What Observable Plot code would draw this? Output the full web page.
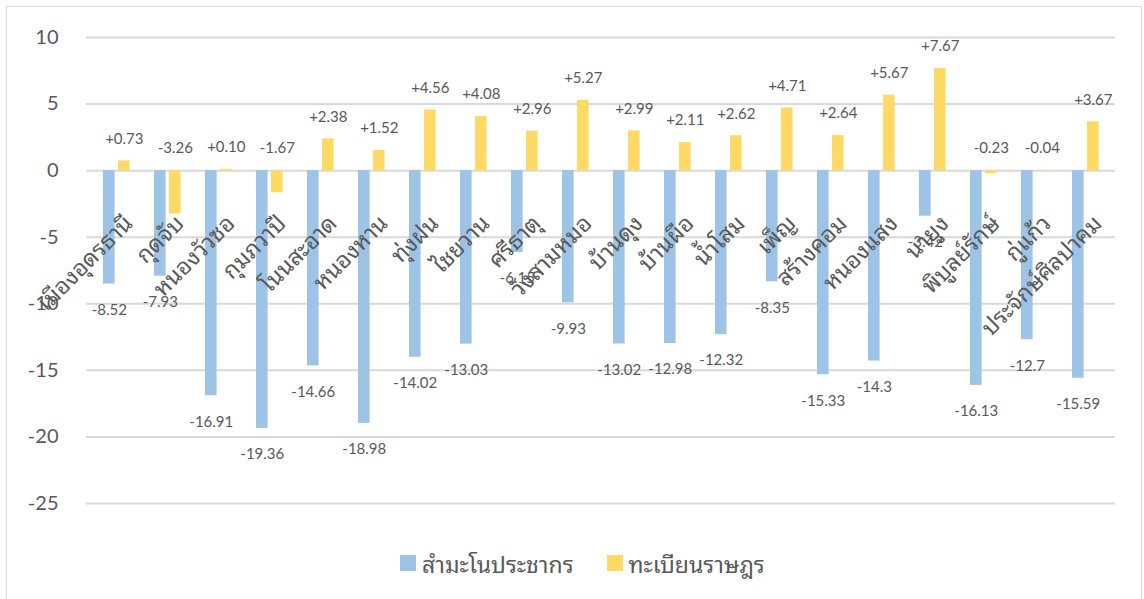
<!DOCTYPE html>
<html>
<head>
<meta charset="utf-8">
<script src="https://cdn.jsdelivr.net/npm/d3@7"></script>
<script src="https://cdn.jsdelivr.net/npm/@observablehq/plot@0.6"></script>
<style>
  body { margin: 0; background: #fff; }
  #frame { position: absolute; left: 6px; top: 6px; width: 1136px; height: 620px; border: 1px solid #d9d9d9; box-sizing: border-box; }
  #chart { position: absolute; left: 0; top: 0; }
  #legend { position: absolute; top: 544px; left: 400px; display: flex; align-items: center; font-family: "Noto Sans Thai Looped", Loma, Garuda, "Noto Sans Thai", Tahoma, "Noto Sans", sans-serif; font-size: 23px; color: #595959; }
  .sw { display: inline-block; width: 16px; height: 16px; margin-right: 6px; }
  .item { display: flex; align-items: center; margin-right: 33px; }
</style>
</head>
<body>
<div id="frame"></div>
<div id="chart"></div>
<div id="legend"></div>
<script>
const categories = ["เมืองอุดรธานี","กุดจับ","หนองวัวซอ","กุมภวาปี","โนนสะอาด","หนองหาน","ทุ่งฝน","ไชยวาน","ศรีธาตุ","วังสามหมอ","บ้านดุง","บ้านผือ","น้ำโสม","เพ็ญ","สร้างคอม","หนองแสง","นายูง","พิบูลย์รักษ์","กู่แก้ว","ประจักษ์ศิลปาคม"];
const census = [-8.52,-7.93,-16.91,-19.36,-14.66,-18.98,-14.02,-13.03,-6.15,-9.93,-13.02,-12.98,-12.32,-8.35,-15.33,-14.3,-3.42,-16.13,-12.7,-15.59];
const registry = [0.73,-3.26,0.10,-1.67,2.38,1.52,4.56,4.08,2.96,5.27,2.99,2.11,2.62,4.71,2.64,5.67,7.67,-0.23,-0.04,3.67];
const seriesNames = ["สำมะโนประชากร","ทะเบียนราษฎร"];
const seriesColors = ["#9dc3e6","#ffd966"];
const yTicks = [10,5,0,-5,-10,-15,-20,-25];

const rows = categories.map((c,i) => ({cat: c, census: census[i], reg: registry[i]}));
const font = 'Lato, "Noto Sans Thai Looped", Loma, Garuda, "Noto Sans Thai", Tahoma, "Noto Sans", sans-serif';
const thaiFont = '"Noto Sans Thai Looped", Loma, Garuda, "Noto Sans Thai", Tahoma, "Noto Sans", sans-serif';
const fmtSigned = v => (v >= 0 ? "+" : "-") + Math.abs(v).toFixed(2);

const chart = Plot.plot({
  width: 1144,
  height: 520,
  marginLeft: 86,
  marginRight: 29,
  marginTop: 37,
  marginBottom: 17,
  style: {fontFamily: font, fontSize: "20px", color: "#595959", background: "transparent"},
  x: {domain: categories, padding: 0, axis: null},
  y: {domain: [-25, 10], ticks: yTicks, tickSize: 0, tickPadding: 28, tickFormat: d => String(d), label: null},
  marks: [
    Plot.ruleY(yTicks, {stroke: "#d9d9d9", strokeWidth: 2}),
    Plot.barY(rows, {x: "cat", y: "census", fill: seriesColors[0], insetLeft: 12, insetRight: 27.4}),
    Plot.barY(rows, {x: "cat", y: "reg", fill: seriesColors[1], insetLeft: 27, insetRight: 12.4}),
    Plot.text(rows, {x: "cat", y: "census", text: d => String(d.census), dx: -7.7, dy: 26, fontSize: 15, fill: "#595959"}),
    Plot.text(rows, {x: "cat", y: d => Math.max(d.reg, 0), text: d => fmtSigned(d.reg), dx: 7.3, dy: -22, fontSize: 15, fill: "#595959"}),
    Plot.text(rows, {x: "cat", y: () => 0, text: "cat", rotate: -45, textAnchor: "end", dx: 12, dy: 49, fontSize: 23, fontFamily: thaiFont, fill: "#595959"})
  ]
});
document.getElementById("chart").appendChild(chart);

const legend = document.getElementById("legend");
seriesNames.forEach((n, i) => {
  const item = document.createElement("div");
  item.className = "item";
  const sw = document.createElement("span");
  sw.className = "sw";
  sw.style.background = seriesColors[i];
  const t = document.createElement("span");
  t.textContent = n;
  item.appendChild(sw);
  item.appendChild(t);
  legend.appendChild(item);
});
</script>
</body>
</html>
